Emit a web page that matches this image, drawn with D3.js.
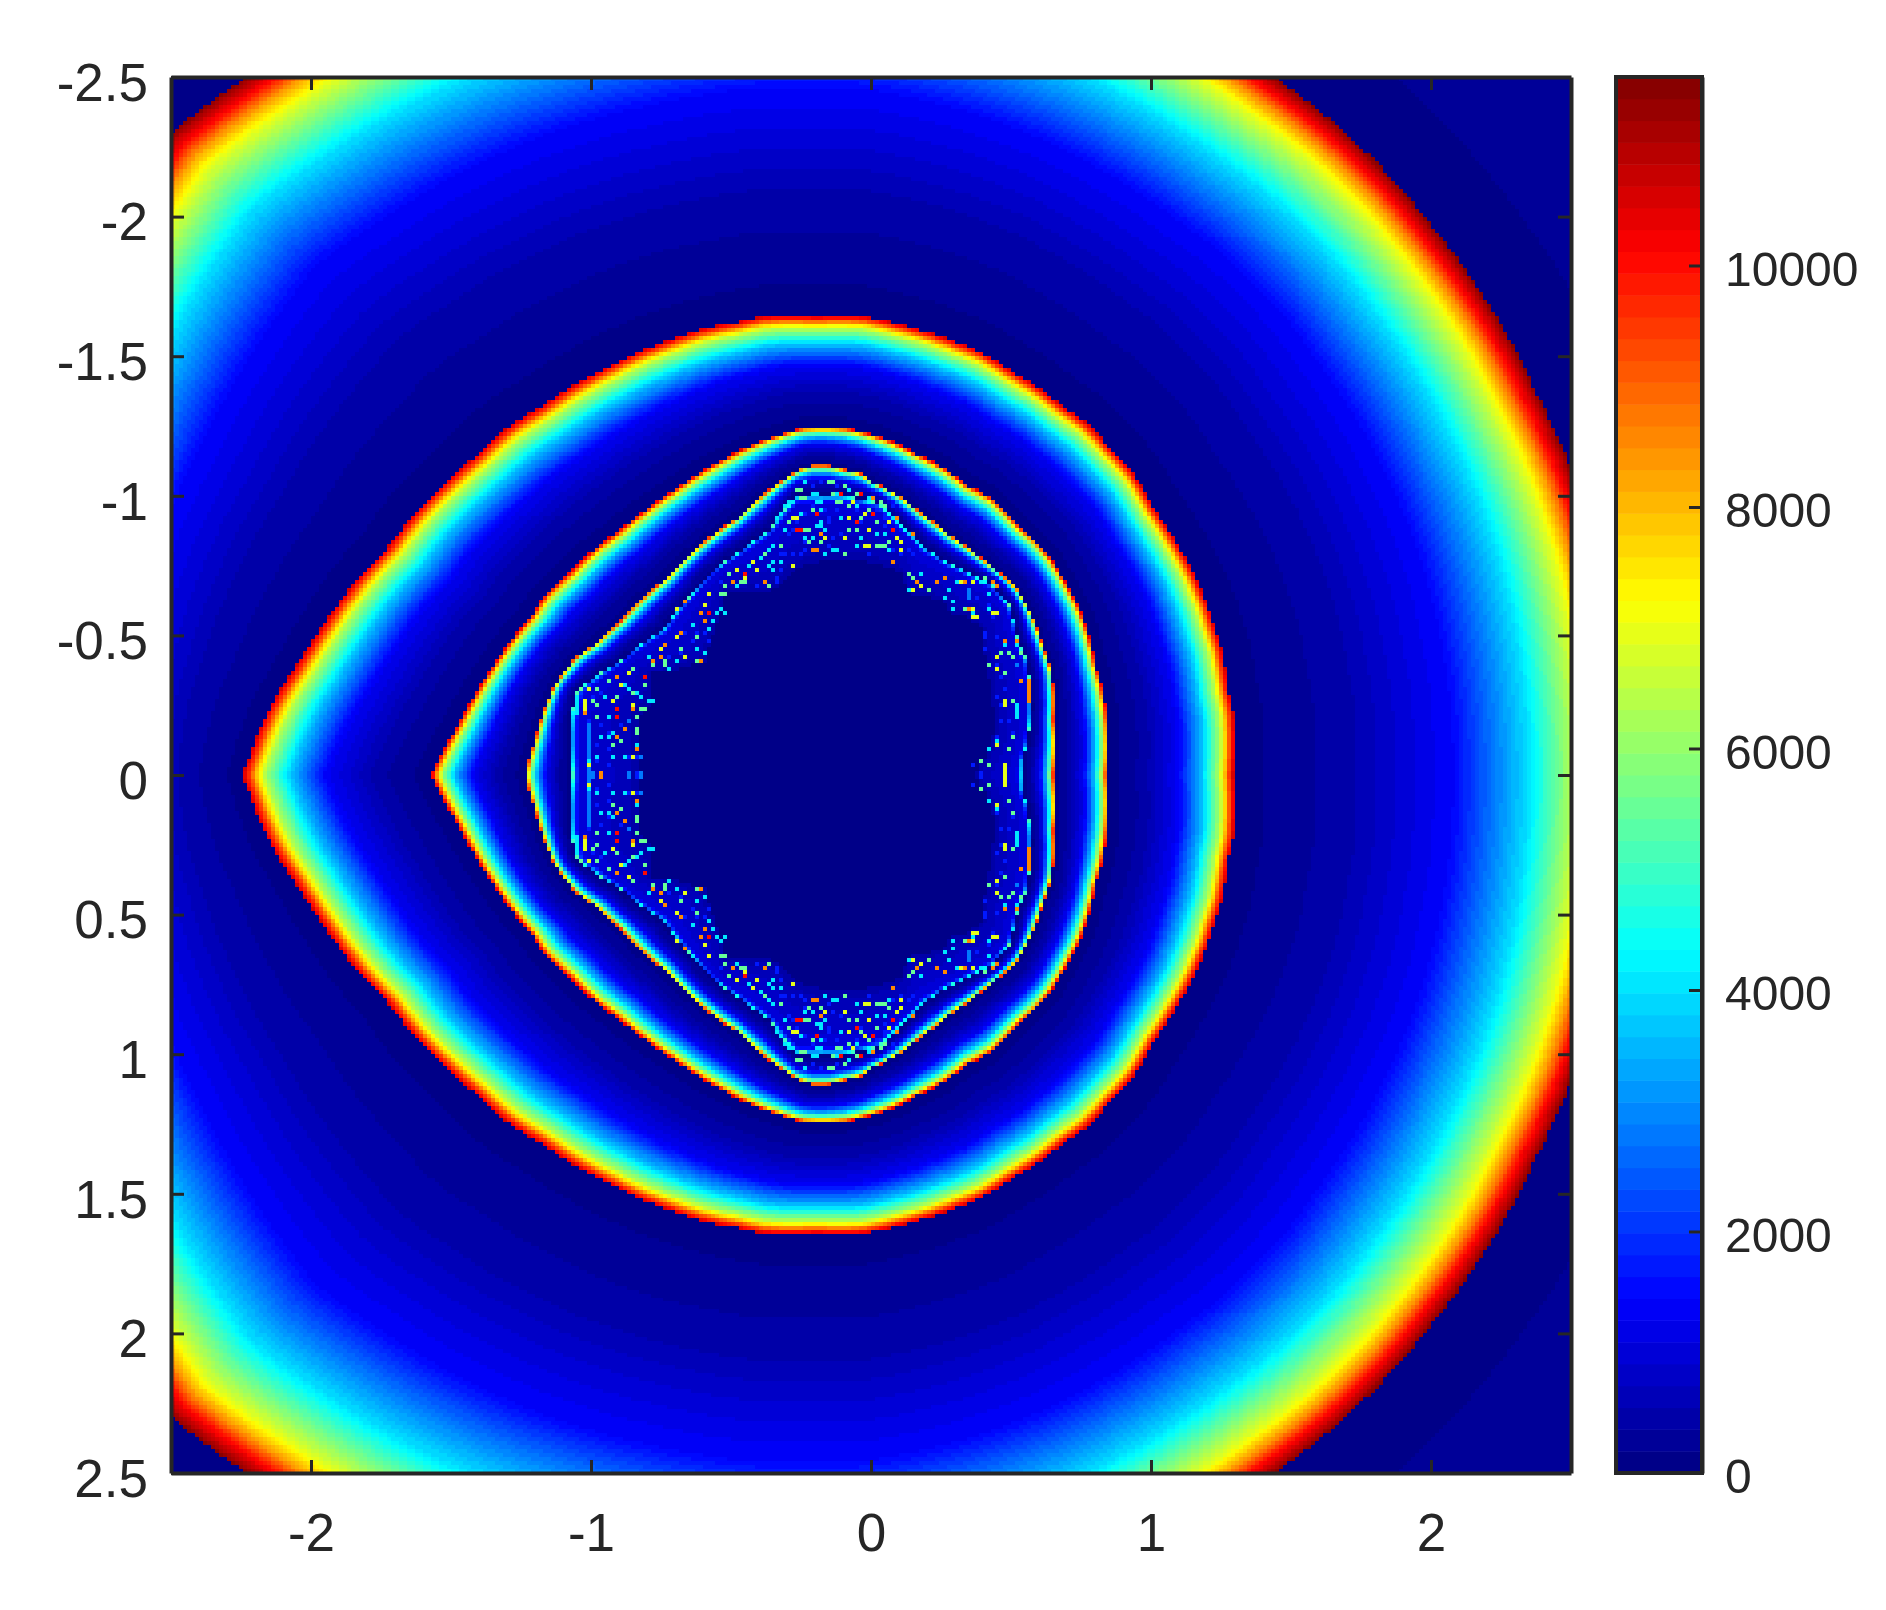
<!DOCTYPE html>
<html>
<head>
<meta charset="utf-8">
<script src="https://d3js.org/d3.v7.min.js"></script>
<style>
  html, body { margin: 0; background: #fff; }
  #chart-area { position: relative; width: 1886px; height: 1610px; overflow: hidden; }
  canvas, svg { position: absolute; left: 0; top: 0; }
  canvas { filter: blur(0.5px); }
  text { font-family: "Liberation Sans", Arial, sans-serif; fill: #262626; filter: blur(0.6px); }
</style>
</head>
<body>
<div id="chart-area"></div>
<script>
// ticks
let xTicks = [-2, -1, 0, 1, 2];
let yTicks = [-2.5, -2, -1.5, -1, -0.5, 0, 0.5, 1, 1.5, 2, 2.5];
let colorTicks = [0, 2000, 4000, 6000, 8000, 10000];
let colorMax = 11561;
let gridSize = 350;
let levels = 64;

// ring outlines, upper half only, the picture is mirrored at y = 0
let edge0 = [[6.4, 0], [-0.1, -6.5], [-6.6, 0]];
let edge1 = [[2.7, 0], [2.67, -0.4], [2.6, -0.78], [2.5, -1.1], [2.37, -1.38], [2.246, -1.62], [2.04, -1.92], [1.83, -2.17], [1.65, -2.34], [1.44, -2.5], [1, -2.78], [0, -3.1], [-1, -3.02], [-2.23, -2.5], [-2.5, -2.3], [-2.83, -1.7], [-3.09, -0.8], [-3, 0]];
let edge2 = [[1.293, 0], [1.293, -0.222], [1.275, -0.304], [1.264, -0.383], [1.25, -0.455], [1.221, -0.544], [1.204, -0.602], [1.175, -0.673], [1.157, -0.716], [1.079, -0.852], [1.007, -0.96], [0.936, -1.082], [0.854, -1.171], [0.771, -1.26], [0.686, -1.318], [0.593, -1.39], [0.496, -1.45], [0.4, -1.511], [0.3, -1.551], [0.211, -1.583], [0.104, -1.612], [-0.021, -1.64], [-0.2, -1.64], [-0.386, -1.64], [-0.475, -1.622], [-0.611, -1.594], [-0.736, -1.551], [-0.839, -1.511], [-0.946, -1.458], [-1.089, -1.379], [-1.179, -1.318], [-1.3, -1.243], [-1.407, -1.146], [-1.521, -1.046], [-1.629, -0.938], [-1.725, -0.817], [-1.829, -0.709], [-1.923, -0.584], [-1.95, -0.544], [-2.01, -0.455], [-2.068, -0.365], [-2.11, -0.304], [-2.157, -0.222], [-2.243, 0]];
let edge3 = [[0.843, 0], [0.84, -0.233], [0.8, -0.4], [0.746, -0.59], [0.686, -0.706], [0.639, -0.781], [0.579, -0.849], [0.532, -0.888], [0.432, -0.992], [0.343, -1.039], [0.257, -1.103], [0.157, -1.153], [0.104, -1.182], [0.032, -1.211], [-0.032, -1.229], [-0.093, -1.243], [-0.243, -1.243], [-0.296, -1.229], [-0.4, -1.193], [-0.514, -1.139], [-0.614, -1.082], [-0.704, -1.021], [-0.807, -0.949], [-0.911, -0.867], [-0.986, -0.813], [-1.075, -0.727], [-1.164, -0.645], [-1.214, -0.566], [-1.289, -0.476], [-1.354, -0.383], [-1.425, -0.269], [-1.479, -0.172], [-1.571, 0]];
let edge4 = [[0.65, 0], [0.65, -0.2], [0.646, -0.365], [0.614, -0.458], [0.568, -0.584], [0.521, -0.67], [0.471, -0.716], [0.39, -0.781], [0.282, -0.86], [0.175, -0.942], [0.114, -0.992], [0.007, -1.05], [-0.04, -1.082], [-0.1, -1.096], [-0.157, -1.11], [-0.21, -1.11], [-0.254, -1.096], [-0.3, -1.067], [-0.479, -0.92], [-0.604, -0.831], [-0.729, -0.709], [-0.896, -0.548], [-0.979, -0.473], [-1.057, -0.419], [-1.11, -0.351], [-1.139, -0.304], [-1.171, -0.222], [-1.2, -0.125], [-1.236, 0]];
let edge5 = [[0.54, 0], [0.54, -0.05], [0.557, -0.115], [0.568, -0.294], [0.557, -0.405], [0.525, -0.473], [0.496, -0.598], [0.436, -0.68], [0.379, -0.709], [0.275, -0.759], [0.186, -0.817], [0.114, -0.888], [0.025, -0.974], [-0.104, -1], [-0.18, -1], [-0.264, -1], [-0.361, -0.877], [-0.479, -0.795], [-0.568, -0.727], [-0.657, -0.627], [-0.743, -0.519], [-0.896, -0.405], [-1.046, -0.304], [-1.057, -0.276], [-1.068, -0.222], [-1.064, 0]];
let edge6 = [[0.36, 0], [0.425, -0.09], [0.436, -0.15], [0.436, -0.243], [0.425, -0.315], [0.414, -0.387], [0.4, -0.458], [0.4, -0.519], [0.343, -0.566], [0.282, -0.58], [0.257, -0.627], [0.2, -0.638], [0.129, -0.652], [0.114, -0.723], [0.068, -0.745], [-0.014, -0.763], [-0.136, -0.777], [-0.279, -0.734], [-0.336, -0.673], [-0.371, -0.655], [-0.421, -0.662], [-0.514, -0.662], [-0.539, -0.58], [-0.568, -0.483], [-0.593, -0.401], [-0.718, -0.369], [-0.779, -0.365], [-0.782, -0.258], [-0.825, -0.208], [-0.825, 0]];

// how the value climbs from the inner edge (0) to the outer edge (1) of a ring
let profilePos = [0, 0.1, 0.3, 0.56, 0.75, 0.82, 0.89, 0.93, 0.96, 1];
let profileVal = [120, 200, 500, 1450, 4000, 5500, 7000, 8500, 10000, 11500];
let ringScale = [1, 1, 0.92, 0.9, 0.85];
// the zone with the speckles has a far thinner rim
let innerPos = [0, 0.5, 0.88, 0.95, 1];
let innerVal = [450, 800, 1000, 2200, 5200];

// single speckle cells in the fractal zone [column, row], upper half
let speckleCyan = [[158,101],[154,106],[153,107],[160,104],[161,104],[166,104],[169,103],[174,105],[161,106],[162,106],[171,107],[162,108],[152,109],[157,109],[151,110],[167,110],[162,111],[161,112],[162,112],[153,113],[163,113],[176,114],[178,114],[158,115],[160,115],[172,115],[150,117],[171,117],[179,118],[165,118],[166,118],[149,118],[163,119],[150,121],[152,121],[149,122],[150,123],[187,124],[184,128],[194,128],[193,130],[195,131],[195,133],[200,134],[196,126],[202,126],[204,129],[204,133],[208,131],[208,142],[211,142],[211,157],[211,158],[211,159],[211,160],[206,166],[204,168],[101,155],[101,156],[101,157],[101,158],[101,159],[108,155],[110,164],[109,160],[107,165],[109,165],[116,167],[120,156],[114,153],[113,170],[110,170],[106,170],[104,171],[113,152],[116,154],[117,155],[119,156],[119,145],[124,148],[126,146],[131,143],[133,144],[130,137],[135,136],[134,138],[136,134],[137,133],[138,134],[130,129],[141,127],[144,122],[147,120]];
let speckleGreen = [[164,101],[165,101],[157,103],[165,104],[171,104],[168,102],[158,105],[166,106],[167,106],[177,106],[169,107],[178,107],[160,108],[174,108],[172,110],[154,111],[176,111],[159,113],[169,113],[171,113],[159,116],[162,116],[179,116],[152,117],[176,117],[177,117],[178,117],[168,119],[148,119],[184,124],[185,125],[189,128],[198,133],[203,125],[212,144],[207,144],[209,144],[210,145],[204,147],[208,149],[210,156],[210,165],[209,168],[202,171],[204,172],[209,132],[102,153],[106,153],[109,151],[115,154],[105,156],[106,157],[111,155],[116,163],[116,164],[106,160],[116,160],[112,166],[110,167],[118,158],[115,148],[118,152],[120,147],[123,146],[123,147],[117,158],[127,143],[131,146],[131,140],[137,129],[138,129],[138,127],[139,124],[142,126],[143,126],[149,127],[158,113],[156,103],[157,105]];
let speckleYellow = [[170,106],[173,109],[156,110],[169,110],[179,111],[174,113],[163,115],[168,115],[181,115],[182,116],[173,117],[174,117],[182,118],[155,122],[187,127],[185,128],[197,126],[200,126],[200,133],[200,135],[201,135],[205,134],[206,134],[206,145],[206,148],[206,167],[208,156],[208,157],[208,172],[208,173],[208,174],[104,172],[115,170],[110,156],[103,156],[103,157],[103,158],[104,153],[112,152],[114,149],[122,143],[128,145],[126,140],[133,132],[134,129],[126,133],[141,123],[143,125],[146,123],[145,121],[155,110],[115,157]];
let speckleOrange = [[175,105],[181,110],[160,118],[161,118],[162,114],[185,114],[180,121],[186,126],[191,126],[193,125],[199,133],[198,126],[205,126],[206,127],[208,141],[211,141],[212,151],[214,151],[214,152],[214,153],[214,154],[214,155],[214,156],[103,159],[113,163],[107,174],[116,168],[111,150],[120,146],[123,142],[122,145],[127,139],[132,146],[132,134],[133,136],[128,131],[140,126],[148,126],[111,165],[115,158]];
let speckleRed = [[167,104],[172,104],[161,109],[175,109],[171,111],[157,113],[180,113],[111,158],[111,160],[118,150],[134,134],[143,124],[156,113]];
let speckleBlue = [[104,162],[104,163],[104,164],[104,165],[104,166],[104,167],[104,168],[104,169],[104,170],[104,173],[104,174],[199,128],[199,129],[199,130],[211,147],[117,170],[105,174],[114,174],[117,174],[114,161]];
let speckleDim = [[160,102],[162,101],[166,102],[160,107],[163,108],[164,110],[164,111],[158,109],[156,111],[155,113],[166,108],[171,108],[165,115],[167,114],[164,117],[158,118],[155,119],[152,119],[172,111],[176,108],[178,112],[176,117],[174,119],[180,118],[178,110],[180,107],[182,119],[184,118],[185,119],[201,130],[204,132],[205,135],[203,139],[203,140],[206,140],[203,143],[206,147],[207,150],[208,153],[206,155],[207,157],[207,161],[209,161],[210,164],[206,165],[200,172],[202,174],[105,155],[107,154],[104,161],[107,162],[109,164],[114,161],[112,162],[106,167],[109,168],[114,170],[116,170],[106,171],[110,170],[109,172],[114,174],[116,174],[130,141],[134,141],[128,139],[124,145],[127,144],[131,139],[133,139],[137,126],[146,127],[151,125],[151,126],[152,123],[153,119],[154,114],[155,119],[157,119],[158,116]];

let rings = [edge0, edge1, edge2, edge3, edge4, edge5, edge6];
let speckles = [
  { cells: speckleDim, value: 1800 },
  { cells: speckleBlue, value: 2800 },
  { cells: speckleCyan, value: 4000 },
  { cells: speckleGreen, value: 5500 },
  { cells: speckleYellow, value: 7000 },
  { cells: speckleOrange, value: 8500 },
  { cells: speckleRed, value: 10000 }
];

let width = 1886,
    height = 1610;

let x = d3.scaleLinear().domain([-2.5, 2.5]).range([171, 1571]);
let y = d3.scaleLinear().domain([-2.5, 2.5]).range([77, 1473]);
let colY = d3.scaleLinear().domain([0, colorMax]).range([1473, 77]);

let colBand = d3.scaleBand().domain(d3.range(gridSize)).range(x.range()).round(false);
let rowBand = d3.scaleBand().domain(d3.range(gridSize)).range(y.range()).round(false);

// jet
let jet = d3.scaleLinear()
  .domain([0, 0.125, 0.375, 0.625, 0.875, 1])
  .range(["#000080", "#0000ff", "#00ffff", "#ffff00", "#ff0000", "#800000"])
  .clamp(true);

function levelColor(value) {
  let i = Math.max(0, Math.min(levels - 1, Math.floor(value / colorMax * levels)));
  return jet((i + 0.5) / levels);
}

let centerX = -0.1;
let profile = d3.scaleLinear().domain(profilePos).range(profileVal).clamp(true);
let innerProfile = d3.scaleLinear().domain(innerPos).range(innerVal).clamp(true);

// radius of each outline as a function of the angle around the center
let ringRadius = rings.map(function(edge) {
  let pts = edge.map(function(p) {
    return { a: Math.atan2(Math.abs(p[1]), p[0] - centerX), r: Math.hypot(p[0] - centerX, p[1]) };
  }).sort(function(p, q) { return p.a - q.a; });
  return d3.scaleLinear().domain(pts.map(function(p) { return p.a; })).range(pts.map(function(p) { return p.r; })).clamp(true);
});

function cellValue(col, row) {
  let dataX = x.invert(colBand(col) + colBand.bandwidth() / 2);
  let dataY = y.invert(rowBand(row) + rowBand.bandwidth() / 2);
  let a = Math.atan2(Math.abs(dataY), dataX - centerX);
  let r = Math.hypot(dataX - centerX, dataY);
  for (let i = 0; i < ringRadius.length - 1; i++) {
    let inner = ringRadius[i + 1](a);
    if (r >= inner) {
      let t = (r - inner) / (ringRadius[i](a) - inner);
      return i < ringScale.length ? profile(t) * ringScale[i] : innerProfile(t);
    }
  }
  return 0;
}

// heat map cells, snapped to whole pixels
let chart = d3.select("#chart-area");
let canvas = chart.append("canvas").attr("width", width).attr("height", height);
let ctx = canvas.node().getContext("2d");

function fillCell(col, row) {
  let x0 = Math.round(colBand(col)), y0 = Math.round(rowBand(row));
  let x1 = Math.round(colBand(col) + colBand.bandwidth()), y1 = Math.round(rowBand(row) + rowBand.bandwidth());
  ctx.fillRect(x0, y0, x1 - x0, y1 - y0);
}

for (let row = 0; row < gridSize; row++) {
  for (let col = 0; col < gridSize; col++) {
    ctx.fillStyle = levelColor(cellValue(col, row));
    fillCell(col, row);
  }
}

speckles.forEach(function(group) {
  ctx.fillStyle = levelColor(group.value);
  group.cells.forEach(function(c) {
    fillCell(c[0], c[1]);
    fillCell(c[0], gridSize - 1 - c[1]);
  });
});

let svg = chart.append("svg").attr("width", width).attr("height", height);

// colorbar
svg.append("g").selectAll("rect")
  .data(d3.range(levels))
  .enter().append("rect")
  .attr("x", 1616)
  .attr("width", 86)
  .attr("y", function(d) { return colY((d + 1) / levels * colorMax); })
  .attr("height", function(d) { return colY(d / levels * colorMax) - colY((d + 1) / levels * colorMax) + 0.5; })
  .attr("fill", function(d) { return levelColor((d + 0.5) / levels * colorMax); });

function styleAxis(g, fontSize) {
  g.selectAll(".domain").attr("stroke", "#262626").attr("stroke-width", 4);
  g.selectAll(".tick line").attr("stroke", "#262626").attr("stroke-width", 3);
  g.selectAll("text").attr("font-size", fontSize).attr("fill", "#262626");
}

let blank = function() { return ""; };
let plain = function(d) { return String(d); };

let left = svg.append("g").attr("transform", "translate(171,0)")
  .call(d3.axisLeft(y).tickValues(yTicks).tickSizeInner(-13).tickSizeOuter(0).tickPadding(23).tickFormat(plain));
left.selectAll("text").attr("dy", "0.44em");
styleAxis(left, 53);

let right = svg.append("g").attr("transform", "translate(1571,0)")
  .call(d3.axisRight(y).tickValues(yTicks).tickSizeInner(-13).tickSizeOuter(0).tickFormat(blank));
styleAxis(right, 53);

let bottom = svg.append("g").attr("transform", "translate(0,1473)")
  .call(d3.axisBottom(x).tickValues(xTicks).tickSizeInner(-13).tickSizeOuter(0).tickPadding(40).tickFormat(plain));
styleAxis(bottom, 53);

let top_ = svg.append("g").attr("transform", "translate(0,77)")
  .call(d3.axisTop(x).tickValues(xTicks).tickSizeInner(-13).tickSizeOuter(0).tickFormat(blank));
styleAxis(top_, 53);

let cbRight = svg.append("g").attr("transform", "translate(1702,0)")
  .call(d3.axisRight(colY).tickValues(colorTicks).tickSizeInner(-13).tickSizeOuter(0).tickPadding(23).tickFormat(plain));
cbRight.selectAll("text").attr("dy", "0.41em");
styleAxis(cbRight, 48);

let cbFrame = svg.append("g");
cbFrame.append("rect")
  .attr("x", 1616).attr("y", 77).attr("width", 86).attr("height", 1396)
  .attr("fill", "none").attr("stroke", "#262626").attr("stroke-width", 4);
</script>
</body>
</html>
